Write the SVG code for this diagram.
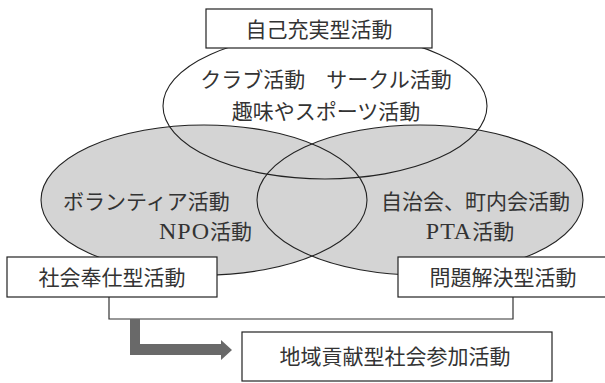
<svg xmlns="http://www.w3.org/2000/svg" width="605" height="383" viewBox="0 0 605 383">
<style>
.t{font-family:"Noto Sans CJK JP","Noto Sans CJK SC",sans-serif;font-size:21px;fill:#333;}
.m{text-anchor:middle;}
.lat{font-family:"Liberation Serif","Times New Roman",serif;font-size:24px;letter-spacing:1px;}
.box{fill:#fff;stroke:#222;stroke-width:1.2;}
.gray{fill:#d4d4d4;stroke:none;}
.ol{fill:none;stroke:#222;stroke-width:1.1;}
.con{fill:none;stroke:#333;stroke-width:1.2;}
</style>
<rect width="605" height="383" fill="#fff"/>
<g id="fills">
<ellipse cx="325" cy="106" rx="162" ry="73" fill="#fff"/>
<ellipse class="gray" cx="204" cy="200" rx="163" ry="75"/>
<ellipse class="gray" cx="420" cy="200" rx="163" ry="75"/>
</g>
<g id="outlines">
<ellipse class="ol" cx="325" cy="106" rx="162" ry="73"/>
<ellipse class="ol" cx="204" cy="200" rx="163" ry="75"/>
<ellipse class="ol" cx="420" cy="200" rx="163" ry="75"/>
</g>
<g id="connectors">
<polyline class="con" points="109,297 109,319 513,319 513,297"/>
<polygon points="130,319 130,355 221,355 221,360 232,350 221,340 221,344 140,344 140,319" fill="#696969"/>
</g>
<g id="self-fulfillment">
<rect class="box" x="206" y="9" width="226" height="39"/>
<text class="t m" x="319" y="37">自己充実型活動</text>
</g>
<g id="self-fulfillment-circle">
<text class="t m" x="326" y="87">クラブ活動　サークル活動</text>
<text class="t m" x="326" y="119">趣味やスポーツ活動</text>
</g>
<g id="volunteer-circle">
<text class="t" x="63" y="209">ボランティア活動</text>
<text class="t" x="252" y="239" text-anchor="end"><tspan class="lat">NPO</tspan>活動</text>
</g>
<g id="problem-circle">
<text class="t" x="381" y="209">自治会、町内会活動</text>
<text class="t m" x="470" y="239"><tspan class="lat">PTA</tspan>活動</text>
</g>
<g id="social-service">
<rect class="box" x="7" y="257" width="210" height="40"/>
<text class="t m" x="112" y="285">社会奉仕型活動</text>
</g>
<g id="problem-solving">
<rect class="box" x="398" y="257" width="210" height="40"/>
<text class="t m" x="503" y="285">問題解決型活動</text>
</g>
<g id="community">
<rect class="box" x="242" y="332" width="310" height="49"/>
<text class="t m" x="395" y="364">地域貢献型社会参加活動</text>
</g>
</svg>
